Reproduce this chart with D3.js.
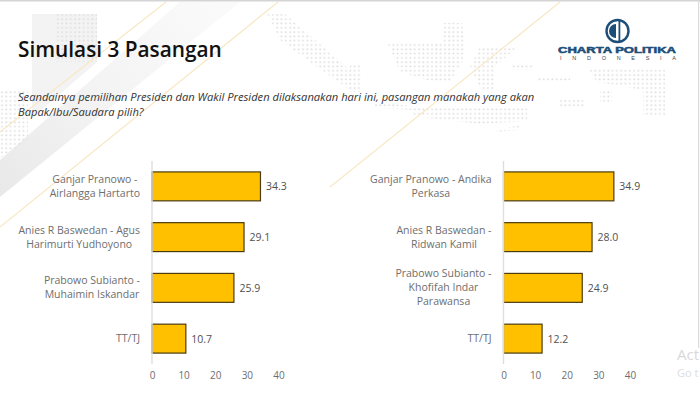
<!DOCTYPE html>
<html>
<head>
<meta charset="utf-8">
<script src="https://cdn.jsdelivr.net/npm/d3@7"></script>
<style>
html, body { margin: 0; padding: 0; background: #fff; overflow: hidden; }
svg { display: block; font-family: "Open Sans", sans-serif; }
</style>
</head>
<body>
<div id="chart"></div>
<script>
const title = 'Simulasi 3 Pasangan';
const question = [
    'Seandainya pemilihan Presiden dan Wakil Presiden dilaksanakan hari ini, pasangan manakah yang akan',
    'Bapak/Ibu/Saudara pilih?'
];

const leftLabels = [
    ['Ganjar Pranowo -', 'Airlangga Hartarto'],
    ['Anies R Baswedan - Agus', 'Harimurti Yudhoyono'],
    ['Prabowo Subianto -', 'Muhaimin Iskandar'],
    ['TT/TJ']
];
const leftValues = [34.3, 29.1, 25.9, 10.7];

const rightLabels = [
    ['Ganjar Pranowo - Andika', 'Perkasa'],
    ['Anies R Baswedan -', 'Ridwan Kamil'],
    ['Prabowo Subianto -', 'Khofifah Indar', 'Parawansa'],
    ['TT/TJ']
];
const rightValues = [34.9, 28.0, 24.9, 12.2];

const xTicks = [0, 10, 20, 30, 40];

const width = 700;
const height = 393;

const svg = d3.select('#chart')
    .append('svg')
    .attr('width', width)
    .attr('height', height);

drawBackground();
drawHeader();
createBarChart(leftLabels, leftValues, 152, 278.5);
createBarChart(rightLabels, rightValues, 503.5, 630);
drawLogo();

// faint slide artwork behind the charts
function drawBackground() {
    const defs = svg.append('defs');
    defs.append('pattern')
        .attr('id', 'dots')
        .attr('width', 4.3)
        .attr('height', 4.3)
        .attr('patternUnits', 'userSpaceOnUse')
        .append('circle')
        .attr('cx', 2)
        .attr('cy', 2)
        .attr('r', 1)
        .attr('fill', '#dedede');

    const fade = defs.append('linearGradient')
        .attr('id', 'fade')
        .attr('gradientUnits', 'userSpaceOnUse')
        .attr('x1', 0).attr('y1', 190)
        .attr('x2', 220).attr('y2', 10);
    fade.append('stop').attr('offset', 0).attr('stop-color', '#e9e9e9');
    fade.append('stop').attr('offset', 0.45).attr('stop-color', '#f3f3f3');
    fade.append('stop').attr('offset', 1).attr('stop-color', '#fafafa');

    const shade = d3.line();
    svg.append('path')
        .attr('d', shade([[32, 14], [97, 14], [97, 62], [32, 118]]) + 'Z')
        .attr('fill', '#f3f3f3');
    svg.append('path')
        .attr('d', shade([[180, 2], [240, 2], [0, 197], [0, 160]]) + 'Z')
        .attr('fill', 'url(#fade)');
    svg.append('path')
        .attr('d', shade([[56, 14], [97, 14], [97, 62], [56, 62]]) + 'Z')
        .attr('fill', 'url(#dots)');
    svg.append('path')
        .attr('d', shade([[0, 90], [28, 90], [28, 140], [0, 158]]) + 'Z')
        .attr('fill', 'url(#dots)');

    // dotted map of Indonesia
    const islands = [
        [[267, 14], [285, 14], [350, 70], [350, 90], [310, 62], [280, 40]],
        [[387, 42], [442, 42], [443, 23], [462, 23], [465, 43], [463, 60], [450, 82], [433, 82], [400, 72]],
        [[350, 65], [362, 65], [362, 92], [350, 92]],
        [[480, 47], [517, 47], [505, 58], [495, 66], [495, 90], [481, 90], [470, 66]],
        [[510, 65], [533, 65], [533, 70], [510, 70]],
        [[537, 76], [570, 76], [570, 82], [537, 82]],
        [[587, 67], [665, 70], [665, 117], [643, 117], [643, 90], [597, 82]],
        [[413, 108], [527, 108], [527, 121], [480, 124], [413, 116]],
        [[375, 102], [413, 106], [413, 110], [375, 108]],
        [[600, 90], [612, 90], [612, 102], [600, 102]],
        [[560, 100], [585, 100], [585, 108], [560, 108]],
        [[497, 130], [520, 125], [520, 130], [497, 132]]
    ];
    svg.selectAll('.island')
        .data(islands)
        .enter().append('path')
        .attr('class', 'island')
        .attr('d', d => shade(d) + 'Z')
        .attr('fill', 'url(#dots)');

    // thin gold diagonals
    const diagonals = [
        [[278, 2], [0, 227]],
        [[166, 2], [0, 132]],
        [[560, 2], [330, 187]]
    ];
    svg.selectAll('.diagonal')
        .data(diagonals)
        .enter().append('path')
        .attr('class', 'diagonal')
        .attr('d', d => shade(d))
        .attr('stroke', '#f9e8c6')
        .attr('stroke-width', 1.3)
        .attr('fill', 'none');

    // slide edge
    svg.append('rect').attr('width', width).attr('height', 1.5).attr('fill', '#d4d4d4');
    svg.append('rect').attr('x', 698).attr('width', 1.2).attr('height', 348).attr('fill', '#dcdcdc');

    // windows watermark cut by the edge
    svg.append('text').attr('x', 677).attr('y', 360)
        .attr('font-size', 15).attr('fill', '#d9d9d9').text('Act');
    svg.append('text').attr('x', 677).attr('y', 377)
        .attr('font-size', 11).attr('fill', '#dedede').text('Go t');
}

function drawHeader() {
    svg.append('text')
        .attr('x', 18)
        .attr('y', 57)
        .attr('font-weight', 600)
        .attr('font-size', 20.8)
        .attr('fill', '#111')
        .text(title);

    svg.selectAll('.question')
        .data(question)
        .enter().append('text')
        .attr('class', 'question')
        .attr('x', 18)
        .attr('y', (d, i) => 101 + i * 14.5)
        .attr('font-style', 'italic')
        .attr('font-size', 11.15)
        .attr('fill', '#333')
        .text(d => d);
}

function createBarChart(labels, values, x0, x40) {
    const x = d3.scaleLinear()
        .domain([0, 40])
        .range([x0, x40]);

    const y = d3.scaleBand()
        .domain(d3.range(values.length))
        .range([161, 364])
        .paddingInner(0.43)
        .paddingOuter(0.215);

    const g = svg.append('g');

    g.selectAll('.bar')
        .data(values)
        .enter().append('rect')
        .attr('class', 'bar')
        .attr('x', x(0))
        .attr('y', (d, i) => y(i))
        .attr('width', d => x(d) - x(0))
        .attr('height', y.bandwidth())
        .attr('fill', '#ffc000')
        .attr('stroke', '#4a3c10')
        .attr('stroke-width', 1.2);

    g.append('line')
        .attr('x1', x(0))
        .attr('x2', x(0))
        .attr('y1', 161)
        .attr('y2', 364)
        .attr('stroke', '#dedede')
        .attr('stroke-width', 1.4);

    g.selectAll('.value')
        .data(values)
        .enter().append('text')
        .attr('class', 'value')
        .attr('x', d => x(d) + 5.5)
        .attr('y', (d, i) => y(i) + y.bandwidth() / 2 + 4)
        .attr('font-size', 10.5)
        .attr('fill', '#505050')
        .text(d => d.toFixed(1));

    // category labels: lines centred on each other, block right aligned to the axis
    labels.forEach((lines, i) => {
        const mid = y(i) + y.bandwidth() / 2;
        const texts = g.selectAll(null)
            .data(lines)
            .enter().append('text')
            .attr('y', (d, j) => mid + 3.5 + (j - (lines.length - 1) / 2) * 14)
            .attr('text-anchor', 'middle')
            .attr('font-size', 10.5)
            .attr('fill', '#6e6e6e')
            .text(d => d);
        const longest = d3.max(texts.nodes(), n => n.getComputedTextLength());
        texts.attr('x', x0 - 12 - longest / 2);
    });

    const axis = d3.axisBottom(x)
        .tickValues(xTicks)
        .tickSize(0)
        .tickPadding(0);

    const axisG = g.append('g')
        .attr('transform', 'translate(0,372)')
        .call(axis);
    axisG.select('.domain').remove();
    axisG.selectAll('text')
        .attr('font-family', '"Open Sans", sans-serif')
        .attr('font-size', 10)
        .attr('fill', '#6e6e6e');
}

function drawLogo() {
    const logo = svg.append('g');
    logo.append('circle')
        .attr('cx', 617.5)
        .attr('cy', 31)
        .attr('r', 11)
        .attr('fill', 'none')
        .attr('stroke', '#1d4e79')
        .attr('stroke-width', 2.4);
    logo.append('path')
        .attr('d', 'M616,24 A7,7 0 0 0 616,38 Z')
        .attr('fill', '#1d4e79');
    logo.append('rect')
        .attr('x', 618.5)
        .attr('y', 20)
        .attr('width', 1.8)
        .attr('height', 22)
        .attr('fill', '#1d4e79');
    logo.append('text')
        .attr('x', 558)
        .attr('y', 52.5)
        .attr('textLength', 118)
        .attr('lengthAdjust', 'spacingAndGlyphs')
        .attr('font-family', 'Liberation Sans')
        .attr('font-weight', 700)
        .attr('font-size', 8.6)
        .attr('stroke', '#1d4e79')
        .attr('stroke-width', 0.5)
        .attr('fill', '#1d4e79')
        .text('CHARTA POLITIKA');
    logo.append('text')
        .attr('x', 560)
        .attr('y', 59.5)
        .attr('textLength', 116)
        .attr('font-family', 'Liberation Sans')
        .attr('font-size', 5.5)
        .attr('fill', '#444')
        .text('INDONESIA');
}
</script>
</body>
</html>
